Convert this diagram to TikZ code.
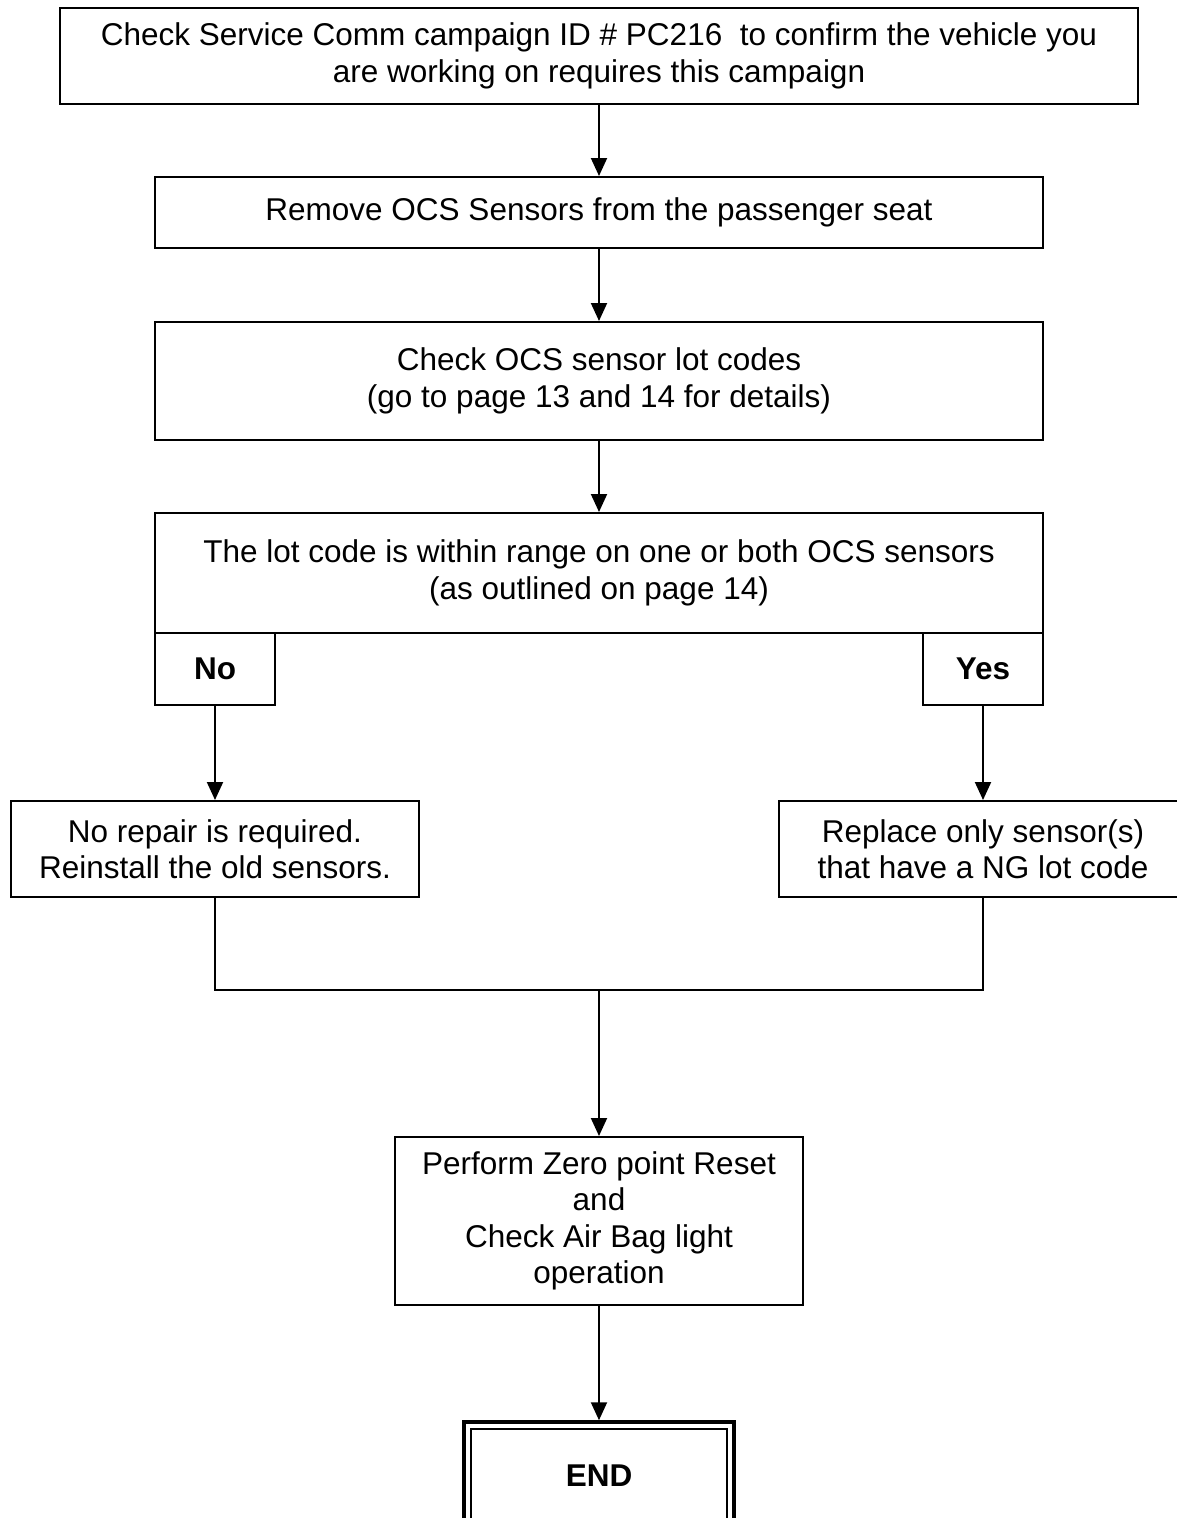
\documentclass[tikz,border=0pt]{standalone}
\usepackage{fontspec}
\setmainfont{Liberation Sans}
\usetikzlibrary{arrows.meta}
\begin{document}
\begin{tikzpicture}[x=1pt,y=1pt,
  box/.style={draw, line width=2pt, rectangle, inner sep=0pt, align=center,
    font=\fontsize{31.5}{36.5}\selectfont},
  yn/.style={draw, line width=2pt, rectangle, inner sep=0pt,
    font=\fontsize{31.5}{36.5}\selectfont\bfseries},
  conn/.style={line width=2pt},
  arr/.style={line width=2pt, -{Triangle[width=16pt,length=18pt]}}
]
\useasboundingbox (0,0) rectangle (1177,-1518);
% boxes
\node[box, minimum width=1078, minimum height=96] (b1) at (599,-56)
  {Check Service Comm campaign ID \# PC216\ \ to confirm the vehicle you\\are working on requires this campaign};
\node[box, minimum width=888, minimum height=71] (b2) at (599,-212.5)
  {Remove OCS Sensors from the passenger seat};
\node[box, minimum width=888, minimum height=118] (b3) at (599,-381)
  {Check OCS sensor lot codes\\(go to page 13 and 14 for details)};
\node[box, minimum width=888, minimum height=120] (b4) at (599,-573)
  {The lot code is within range on one or both OCS sensors\\(as outlined on page 14)};
\node[yn, minimum width=120, minimum height=72] (no) at (215,-669) {No};
\node[yn, minimum width=120, minimum height=72] (yes) at (983,-669) {Yes};
\node[box, minimum width=408, minimum height=96] (bl) at (215,-849)
  {No repair is required.\\Reinstall the old sensors.};
\node[box, minimum width=408, minimum height=96] (br) at (983,-849)
  {Replace only sensor(s)\\that have a NG lot code};
\node[box, minimum width=408, minimum height=168] (b5) at (599,-1221)
  {Perform Zero point Reset\\and\\Check Air Bag light\\operation};
\node[draw, line width=3.5pt, rectangle, minimum width=270, minimum height=140, inner sep=0pt] (endo) at (599,-1492) {};
\node[draw, line width=1.5pt, rectangle, minimum width=256, minimum height=126, inner sep=0pt] (endi) at (599,-1492) {};
\node[inner sep=0pt, font=\fontsize{31.5}{36.5}\selectfont\bfseries] (endt) at (599,-1476) {END};
% connectors
\coordinate (join) at (599,-990);
\draw[arr] (b1.south) -- (b2.north);
\draw[arr] (b2.south) -- (b3.north);
\draw[arr] (b3.south) -- (b4.north);
\draw[arr] (no.south) -- (bl.north);
\draw[arr] (yes.south) -- (br.north);
\draw[conn] (bl.south) |- (join) -| (br.south);
\draw[arr] (join) -- (b5.north);
\draw[arr] (b5.south) -- (endo.north);
\end{tikzpicture}
\end{document}
